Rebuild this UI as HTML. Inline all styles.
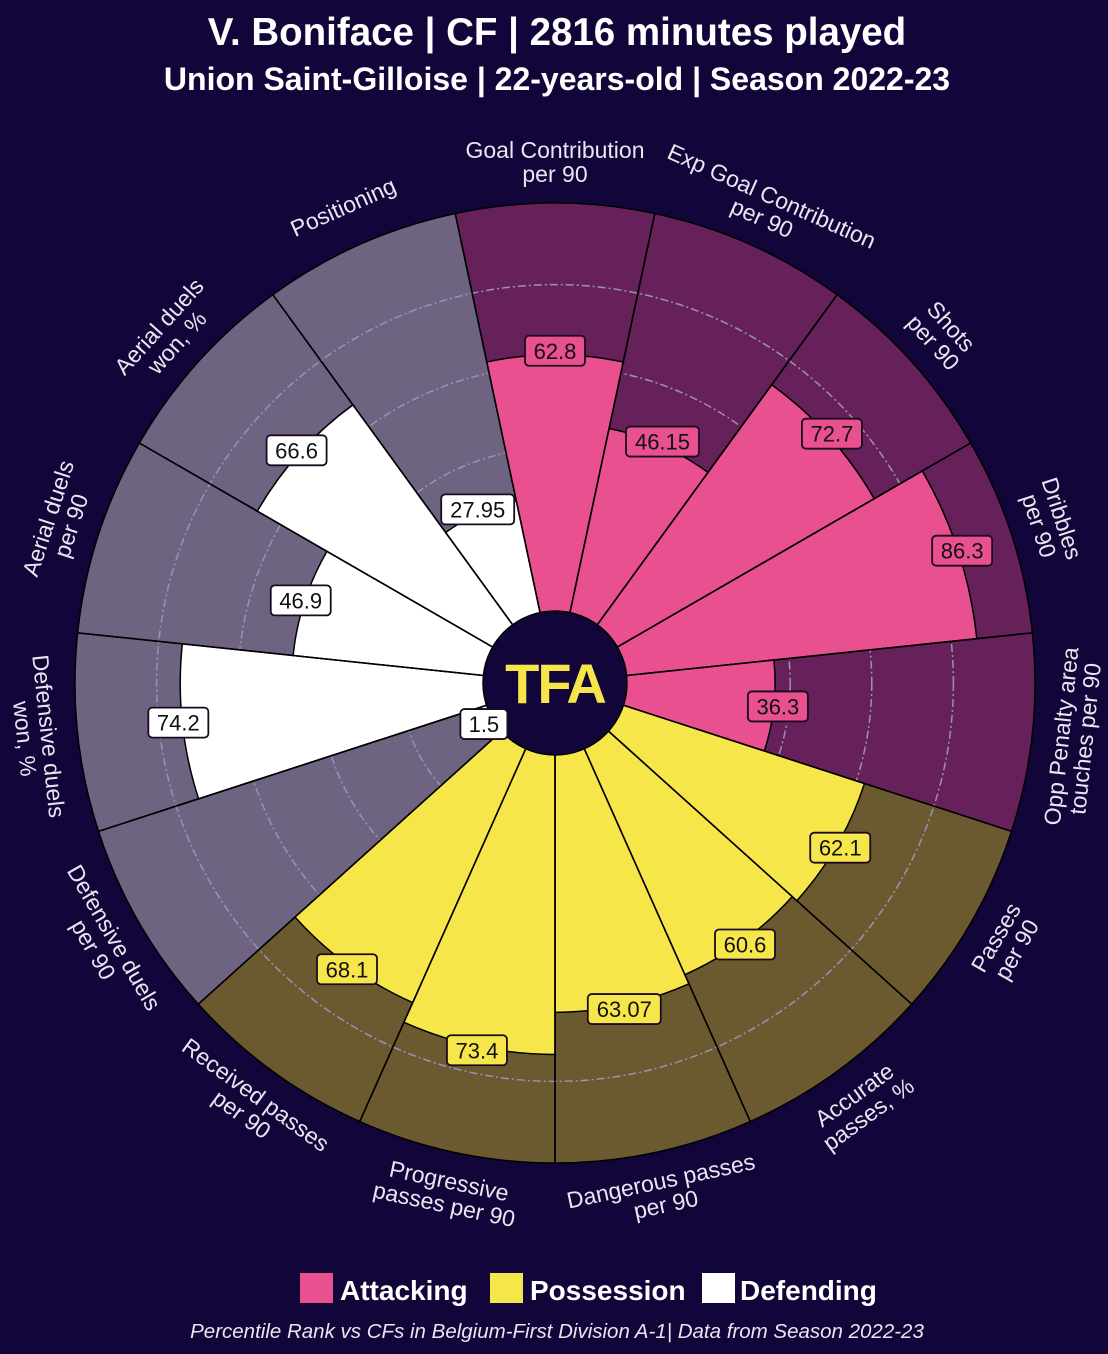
<!DOCTYPE html>
<html><head><meta charset="utf-8">
<style>
html,body{margin:0;padding:0;background:#12053a;}
svg{display:block;font-family:"Liberation Sans",sans-serif;}
</style></head>
<body>
<svg id="s" width="1108" height="1354" viewBox="0 0 1108 1354" xmlns="http://www.w3.org/2000/svg">
<rect width="1108" height="1354" fill="#12053a"/>
<text x="557" y="45" text-anchor="middle" fill="#fff" font-size="38.5" font-weight="bold">V. Boniface | CF | 2816 minutes played</text>
<text x="557" y="90" text-anchor="middle" fill="#fff" font-size="32" font-weight="bold">Union Saint-Gilloise | 22-years-old | Season 2022-23</text>
<g id="chart"></g>
<rect x="300" y="1273" width="33" height="30" fill="#e8508f"/>
<text x="340" y="1300" fill="#fff" font-size="28" font-weight="bold">Attacking</text>
<rect x="490" y="1273" width="33" height="30" fill="#f7e64a"/>
<text x="530" y="1300" fill="#fff" font-size="28" font-weight="bold">Possession</text>
<rect x="702" y="1273" width="33" height="30" fill="#ffffff"/>
<text x="740" y="1300" fill="#fff" font-size="28" font-weight="bold">Defending</text>
<text x="557" y="1338" text-anchor="middle" fill="#e8e6f0" font-size="20.5" font-style="italic">Percentile Rank vs CFs in Belgium-First Division A-1| Data from Season 2022-23</text>
</svg>
<script>
(function(){
var cx=555,cy=683,r0=72,R=480;
var d=[
["Goal Contribution|per 90",62.8,0],["Exp Goal Contribution|per 90",46.15,0],["Shots|per 90",72.7,0],["Dribbles|per 90",86.3,0],["Opp Penalty area|touches per 90",36.3,0],
["Passes|per 90",62.1,1],["Accurate|passes, %",60.6,1],["Dangerous passes|per 90",63.07,1],["Progressive|passes per 90",73.4,1],["Received passes|per 90",68.1,1],
["Defensive duels|per 90",1.5,2],["Defensive duels|won, %",74.2,2],["Aerial duels|per 90",46.9,2],["Aerial duels|won, %",66.6,2],["Positioning",27.95,2]];
var fg=["#e8508f","#f7e64a","#ffffff"],bg=["#66215b","#6b5a2f","#6e6482"];
function pt(a,r){var t=a*Math.PI/180;return [cx+r*Math.sin(t),cy-r*Math.cos(t)];}
function wedge(a1,a2,ri,ro){var p1=pt(a1,ro),p2=pt(a2,ro),p3=pt(a2,ri),p4=pt(a1,ri);
return "M"+p4+" L"+p1+" A"+ro+","+ro+" 0 0 1 "+p2+" L"+p3+" A"+ri+","+ri+" 0 0 0 "+p4+"Z";}
var s="";
d.forEach(function(e,i){var a=i*24;s+='<path d="'+wedge(a-12,a+12,0.1,R)+'" fill="'+bg[e[2]]+'" stroke="#000" stroke-width="1.5"/>';});
[20,40,60,80].forEach(function(v){var r=r0+(R-r0)*v/100;s+='<circle cx="'+cx+'" cy="'+cy+'" r="'+r+'" fill="none" stroke="#9a90b8" stroke-width="1.5" stroke-dasharray="8,3,2,3"/>';});
d.forEach(function(e,i){var a=i*24,r=r0+(R-r0)*e[1]/100;s+='<path d="'+wedge(a-12,a+12,0.1,r)+'" fill="'+fg[e[2]]+'" stroke="#000" stroke-width="1.5"/>';});
d.forEach(function(e,i){var a=i*24;var p=pt(a-12,R),q=pt(a-12,0);s+='<line x1="'+q[0]+'" y1="'+q[1]+'" x2="'+p[0]+'" y2="'+p[1]+'" stroke="#000" stroke-width="1.5"/>';});
s+='<circle cx="'+cx+'" cy="'+cy+'" r="'+r0+'" fill="#12053a" stroke="#000" stroke-width="1.5"/>';
s+='<text x="'+cx+'" y="'+(cy+20)+'" text-anchor="middle" fill="#f7e64a" font-size="56" font-weight="bold" letter-spacing="-2">TFA</text>';
d.forEach(function(e,i){var a=i*24,r=r0+(R-r0)*e[1]/100+4;var p=pt(a,r);var t=String(e[1]);var w=t.length*13+8;
s+='<rect x="'+(p[0]-w/2)+'" y="'+(p[1]-15)+'" width="'+w+'" height="30" rx="4" fill="'+fg[e[2]]+'" stroke="#1a0a20" stroke-width="1.8"/>';
s+='<text x="'+p[0]+'" y="'+(p[1]+8)+'" text-anchor="middle" font-size="22" fill="#111">'+t+'</text>';});
d.forEach(function(e,i){var a=i*24;var p=pt(a,521);var rot=(a>90&&a<270)?a-180:a;var L=e[0].split("|");
s+='<g transform="translate('+p[0]+','+p[1]+') rotate('+rot+')">';
if(L.length==1){s+='<text x="0" y="8" text-anchor="middle" font-size="23" fill="#e8e6f0">'+L[0]+'</text>';}
else{s+='<text x="0" y="-4" text-anchor="middle" font-size="23" fill="#e8e6f0">'+L[0]+'</text><text x="0" y="20" text-anchor="middle" font-size="23" fill="#e8e6f0">'+L[1]+'</text>';}
s+='</g>';});
document.getElementById("chart").innerHTML=s;
})();
</script>
</body></html>
